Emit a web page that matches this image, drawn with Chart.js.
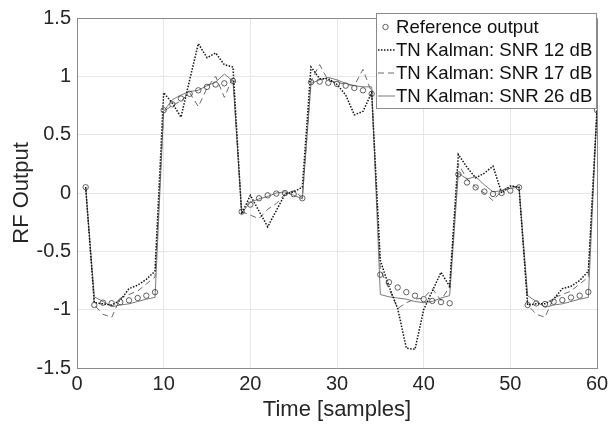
<!DOCTYPE html>
<html>
<head>
<meta charset="utf-8">
<title>RF Output</title>
<script src="https://cdn.jsdelivr.net/npm/chart.js@4/dist/chart.umd.min.js"></script>
<style>
    html, body { margin: 0; padding: 0; background: #ffffff; }
    #rf_graph { display: block; }
</style>
</head>
<body>
<canvas id="rf_graph" width="614" height="427"></canvas>
<script>
// Sample index (x axis)
var samples = [1, 2, 3, 4, 5, 6, 7, 8, 9, 10,
               11, 12, 13, 14, 15, 16, 17, 18, 19, 20,
               21, 22, 23, 24, 25, 26, 27, 28, 29, 30,
               31, 32, 33, 34, 35, 36, 37, 38, 39, 40,
               41, 42, 43, 44, 45, 46, 47, 48, 49, 50,
               51, 52, 53, 54, 55, 56, 57, 58, 59, 60];

// Values
var referenceOutput = [0.05, -0.96, -0.94, -0.945, -0.935, -0.92, -0.90, -0.88, -0.85,
    0.71, 0.76, 0.81, 0.85, 0.88, 0.91, 0.93, 0.94, 0.96,
    -0.16, -0.10, -0.045, -0.02, -0.005, 0.0, -0.01, -0.045,
    0.95, 0.955, 0.945, 0.935, 0.92, 0.90, 0.88, 0.85,
    -0.70, -0.765, -0.81, -0.85, -0.88, -0.91, -0.925, -0.935, -0.945,
    0.16, 0.09, 0.048, 0.012, -0.008, 0.0, 0.02, 0.048,
    -0.96, -0.946, -0.952, -0.932, -0.918, -0.896, -0.88, -0.848,
    0.71];

var snr12 = [0.05, -0.94, -0.95, -0.96, -0.92, -0.82, -0.79, -0.74, -0.67,
    0.86, 0.77, 0.65, 0.97, 1.28, 1.16, 1.20, 1.10, 1.08,
    -0.18, -0.02, -0.155, -0.29, -0.15, -0.01, 0.01, 0.05,
    1.08, 0.98, 0.98, 0.93, 0.84, 0.67, 0.70, 0.86,
    -0.58, -0.80, -0.99, -1.33, -1.34, -1.00, -0.84, -0.68, -0.80,
    0.33, 0.22, 0.13, 0.17, 0.23, 0.0, 0.06, 0.05,
    -0.96, -0.95, -0.95, -0.91, -0.82, -0.80, -0.75, -0.67,
    0.72];

var snr17 = [0.05, -0.96, -1.04, -1.065, -0.90, -0.87, -0.84, -0.78, -0.72,
    0.70, 0.75, 0.79, 0.86, 0.74, 0.90, 1.00, 0.82, 0.99,
    -0.16, -0.19, -0.22, -0.14, -0.09, -0.01, 0.02, -0.04,
    0.96, 1.10, 0.96, 0.95, 0.93, 0.92, 1.06, 0.86,
    -0.66, -0.82, -0.99, -0.94, -0.91, -0.90, -0.82, -0.92, -0.80,
    0.25, 0.12, 0.05, 0.0, -0.065, 0.02, 0.06, 0.05,
    -0.96, -1.04, -1.065, -0.90, -0.87, -0.84, -0.78, -0.72,
    0.71];

var snr26 = [0.05, -0.89, -0.93, -0.975, -0.96, -0.95, -0.93, -0.91, -0.895,
    0.70, 0.80, 0.84, 0.87, 0.88, 0.92, 0.95, 1.02, 0.96,
    -0.17, -0.08, -0.05, -0.03, 0.0, 0.01, -0.02, -0.05,
    0.94, 0.97, 0.99, 0.97, 0.94, 0.92, 0.91, 0.91,
    -0.87, -0.89, -0.90, -0.91, -0.93, -0.94, -0.93, -0.90, -0.88,
    0.17, 0.12, 0.14, 0.07, 0.01, 0.02, 0.04, 0.05,
    -0.88, -0.93, -0.98, -0.96, -0.95, -0.93, -0.91, -0.895,
    0.71];

var seriesLabels = ["Reference output", "TN Kalman: SNR 12 dB", "TN Kalman: SNR 17 dB", "TN Kalman: SNR 26 dB"];

// Tick values for both axes
var xTicks = [0, 10, 20, 30, 40, 50, 60];
var yTicks = [-1.5, -1, -0.5, 0, 0.5, 1, 1.5];

var fontFamily = "'Liberation Sans', Arial, sans-serif";
var textColor = "#262626";
var axisColor = "#8a8a8a";

/**
 * Pairs the sample index with each value so the linear x scale can place it.
 * @param values - An array of y values, one per sample.
 */
function toPoints(values)
{
    return samples.map(function (s, i) { return { x: s, y: values[i] }; });
}

// Draws the top/right edges of the box plus the legend inside the plot (MATLAB style)
var boxAndLegend = {
    id: "boxAndLegend",
    afterDatasetsDraw: function (chart)
    {
        var ctx = chart.ctx;
        var area = chart.chartArea;

        ctx.save();
        ctx.strokeStyle = axisColor;
        ctx.lineWidth = 1;
        ctx.beginPath();
        ctx.moveTo(area.left, area.top + 0.5);
        ctx.lineTo(area.right + 0.5, area.top + 0.5);
        ctx.lineTo(area.right + 0.5, area.bottom);
        ctx.stroke();

        // Legend box
        var bx = 376.5, by = 13.5, bw = 220, bh = 95;
        ctx.fillStyle = "#ffffff";
        ctx.fillRect(bx, by, bw, bh);
        ctx.strokeStyle = axisColor;
        ctx.strokeRect(bx, by, bw, bh);

        ctx.font = "18.6px " + fontFamily;
        ctx.textBaseline = "middle";
        ctx.textAlign = "left";

        chart.data.datasets.forEach(function (ds, i)
        {
            var rowY = 27 + i * 23;

            if (ds.showLine === false)
            {
                ctx.setLineDash([]);
                ctx.strokeStyle = ds.pointBorderColor;
                ctx.lineWidth = ds.pointBorderWidth;
                ctx.beginPath();
                ctx.arc(385.5, rowY, ds.pointRadius, 0, Math.PI * 2);
                ctx.stroke();
            }
            else
            {
                ctx.setLineDash(ds.borderDash || []);
                ctx.strokeStyle = ds.borderColor;
                ctx.lineWidth = ds.borderWidth;
                ctx.beginPath();
                ctx.moveTo(378, rowY);
                ctx.lineTo(395, rowY);
                ctx.stroke();
            }

            ctx.setLineDash([]);
            ctx.fillStyle = "#111111";
            ctx.fillText(ds.label, 396, rowY + 1);
        });
        ctx.restore();
    }
};

new Chart(document.getElementById("rf_graph").getContext("2d"),
{
    type: "line",

    data: {
        datasets: [
            {
                label: seriesLabels[0],
                data: toPoints(referenceOutput),
                showLine: false,
                pointStyle: "circle",
                pointRadius: 2.7,
                pointBorderWidth: 0.8,
                pointBorderColor: "#3a3a3a",
                pointBackgroundColor: "rgba(0,0,0,0)",
                borderColor: "#3a3a3a"
            },
            {
                label: seriesLabels[1],
                data: toPoints(snr12),
                borderColor: "#111111",
                borderWidth: 1.5,
                borderDash: [1.5, 1.5],
                pointRadius: 0,
                fill: false
            },
            {
                label: seriesLabels[2],
                data: toPoints(snr17),
                borderColor: "#6a6a6a",
                borderWidth: 1,
                borderDash: [6, 4],
                pointRadius: 0,
                fill: false
            },
            {
                label: seriesLabels[3],
                data: toPoints(snr26),
                borderColor: "#7a7a7a",
                borderWidth: 1,
                pointRadius: 0,
                fill: false
            }
        ]
    },

    options: {
        responsive: false,
        animation: false,
        layout: {
            padding: { top: 13, right: 17, left: 0, bottom: 0 }
        },
        plugins: {
            legend: { display: false },
            tooltip: { enabled: false }
        },
        scales: {
            x: {
                type: "linear",
                min: 0,
                max: 60,
                afterBuildTicks: function (scale) { scale.ticks = xTicks.map(function (v) { return { value: v }; }); },
                afterFit: function (scale) { scale.height = 59; },
                grid: { color: "#e6e6e6", drawTicks: false },
                border: { color: axisColor },
                ticks: {
                    padding: 4,
                    maxRotation: 0,
                    color: textColor,
                    font: { family: fontFamily, size: 20 },
                    callback: function (value) { return String(value); }
                },
                title: {
                    display: true,
                    text: "Time [samples]",
                    color: textColor,
                    font: { family: fontFamily, size: 22 },
                    padding: { top: 0, bottom: 4 }
                }
            },
            y: {
                type: "linear",
                min: -1.5,
                max: 1.5,
                afterBuildTicks: function (scale) { scale.ticks = yTicks.map(function (v) { return { value: v }; }); },
                afterFit: function (scale) { scale.width = 77; },
                grid: { color: "#e6e6e6", drawTicks: false },
                border: { color: axisColor },
                ticks: {
                    padding: 6,
                    color: textColor,
                    font: { family: fontFamily, size: 20 },
                    callback: function (value) { return String(value); }
                },
                title: {
                    display: true,
                    text: "RF Output",
                    color: textColor,
                    font: { family: fontFamily, size: 22 },
                    padding: { top: 9, bottom: 0 }
                }
            }
        }
    },

    plugins: [boxAndLegend]
});
</script>
</body>
</html>
